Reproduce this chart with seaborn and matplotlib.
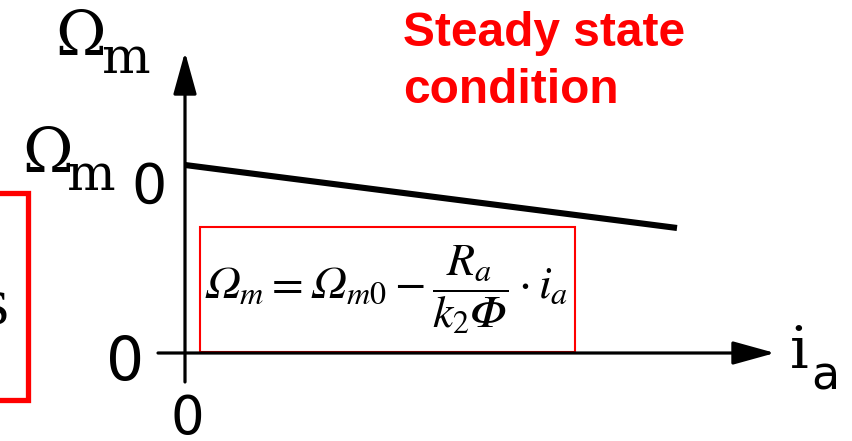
import matplotlib
matplotlib.use("Agg")
import matplotlib.pyplot as plt
from matplotlib.patches import Rectangle
import seaborn as sns
import pandas as pd

# Speed-current characteristic of a DC motor in steady state
ia = [0.0, 1.0]            # armature current (normalised)
omega = [1.0, 0.665]       # angular speed, starts at Omega_m0 = 1
ylabels = ["Ω", "m"]
y0labels = ["Ω", "m", "0"]
title_lines = ["Steady state", "condition"]
formula = r"$𝛺_m = 𝛺_{m0} - \dfrac{R_a}{k_2 𝛷}\cdot i_a$"

sns.set_theme(style="white")
plt.rcParams["mathtext.fontset"] = "stix"
plt.rcParams["text.color"] = "black"

W, H = 852, 441
fig = plt.figure(figsize=(W / 100, H / 100), dpi=100)
ax = fig.add_axes([0, 0, 1, 1])

# origin of the diagram and pixel size of one data unit
OX, OY, SX, SY = 185, 353, 492, 188


def px(x, y):
    return (x - OX) / SX, (OY - y) / SY


ax.set_xlim(px(0, 0)[0], px(W, 0)[0])
ax.set_ylim(px(0, H)[1], px(0, 0)[1])
ax.axis("off")

df = pd.DataFrame({"ia": ia, "omega": omega})
sns.lineplot(data=df, x="ia", y="omega", color="black", lw=4.4,
             solid_capstyle="butt", ax=ax)

# axes with arrow heads
arrow = dict(arrowstyle="-|>,head_length=1.3,head_width=0.36", color="black",
             lw=2.3, mutation_scale=20, shrinkA=0, shrinkB=0)
ax.annotate("", xy=px(OX, 52), xytext=px(OX, 382), arrowprops=arrow)
ax.annotate("", xy=px(775, OY), xytext=px(158, OY), arrowprops=arrow)

# axis labels
serif = "DejaVu Serif"
ax.text(*px(55, 55), ylabels[0], family=serif, fontsize=44, ha="left", va="baseline")
ax.text(*px(101, 73), ylabels[1], family=serif, fontsize=37, ha="left", va="baseline")
ax.text(*px(22, 172), y0labels[0], family=serif, fontsize=44, ha="left", va="baseline")
ax.text(*px(66, 190), y0labels[1], family=serif, fontsize=37, ha="left", va="baseline")
ax.text(*px(131, 203), y0labels[2], family="DejaVu Sans", fontsize=40, ha="left",
        va="baseline")
ax.text(*px(125, 380), "0", family="DejaVu Sans", fontsize=43, ha="center", va="baseline")
ax.text(*px(186, 434), "$0$", math_fontfamily="dejavusans", fontsize=38, ha="center",
        va="baseline")
ax.text(*px(790, 368), "i", family=serif, fontsize=42, ha="left", va="baseline")
ax.text(*px(811, 390), "a", family="DejaVu Sans", fontsize=33, ha="left", va="baseline")

# title
ax.text(*px(403, 46), title_lines[0], family="Liberation Sans", weight="bold",
        fontsize=34.5, color="#ff0000", ha="left", va="baseline")
ax.text(*px(403, 103), title_lines[1], family="Liberation Sans", weight="bold",
        fontsize=34.5, color="#ff0000", ha="left", va="baseline")

# formula in a thin red frame
x0, y0 = px(200, 352)
x1, y1 = px(575, 227)
ax.add_patch(Rectangle((x0, y0), x1 - x0, y1 - y0, fill=False, ec="#ff0000", lw=1.5))
ax.text(*px(386, 299), formula, fontsize=33, ha="center", va="baseline")

# neighbouring frame on the left edge
x0, y0 = px(-20, 400)
x1, y1 = px(28, 193)
ax.add_patch(Rectangle((x0, y0), x1 - x0, y1 - y0, fill=False, ec="#ff0000", lw=3.8,
                       clip_on=False))
ax.text(*px(8, 323), "s", family="Liberation Serif", fontsize=48, ha="right",
        va="baseline")

fig.savefig("out.png", dpi=100)
